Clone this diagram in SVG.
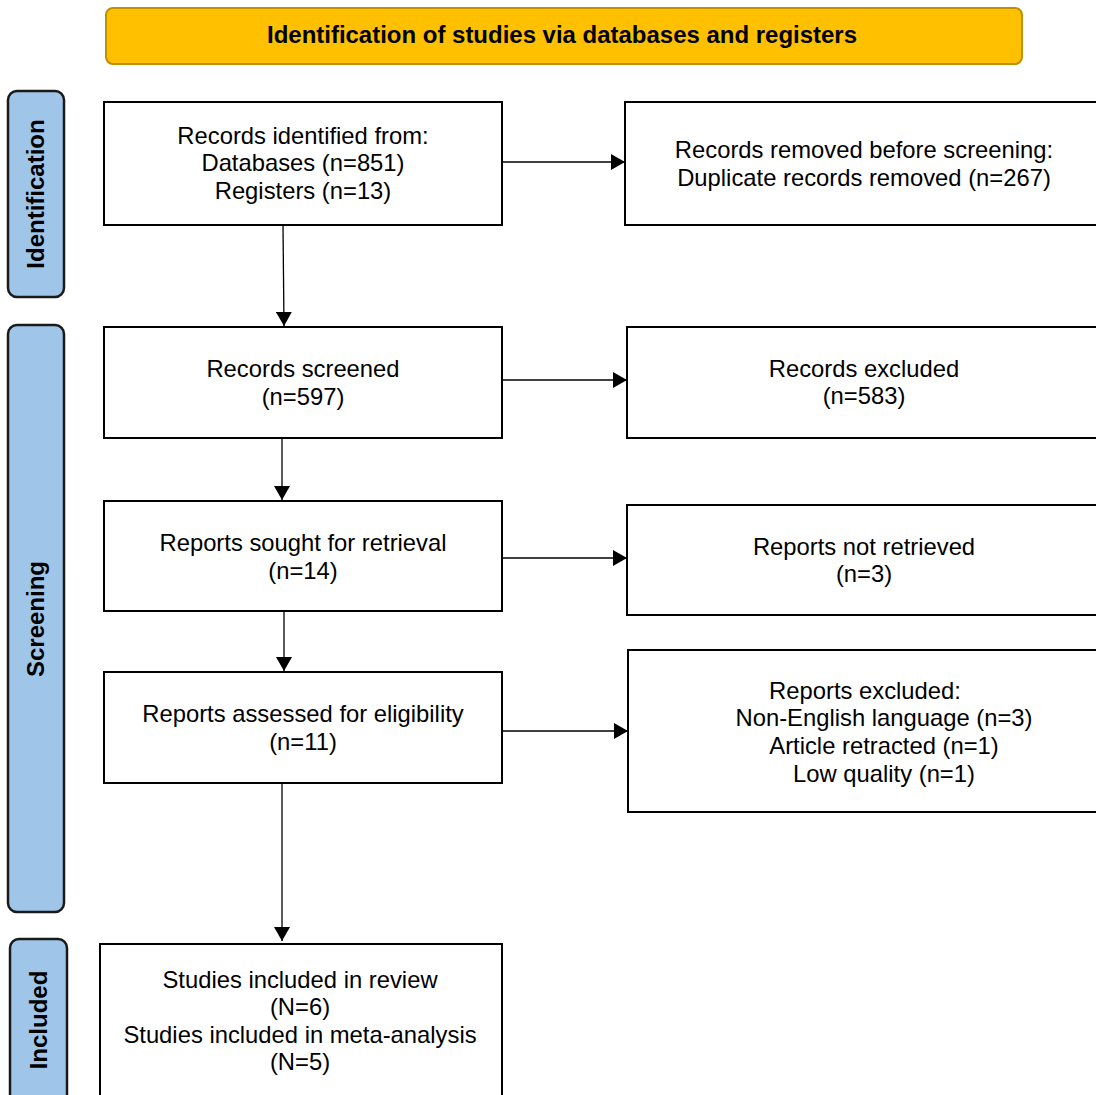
<svg xmlns="http://www.w3.org/2000/svg" width="1096" height="1095" viewBox="0 0 1096 1095">
<style>
.box{fill:#fff;stroke:#000;stroke-width:2}
.side{fill:#9FC5E8;stroke:#1a1a1a;stroke-width:2.5}
.t{font-family:"Liberation Sans",Arial,sans-serif;font-size:23.8px;fill:#000;text-anchor:middle}
.st{font-family:"Liberation Sans",Arial,sans-serif;font-size:24px;font-weight:bold;fill:#000;text-anchor:middle}
.c{stroke:#000;stroke-width:1.3;fill:none}
</style>
<defs>
<marker id="ah" viewBox="0 0 14 16" refX="14" refY="8" markerWidth="14" markerHeight="16" markerUnits="userSpaceOnUse" orient="auto">
<path d="M0,0 L14,8 L0,16 Z" fill="#000"/>
</marker>
</defs>
<rect width="1096" height="1095" fill="#fff"/>
<g id="header">
<rect x="106" y="8" width="916" height="56" rx="7" fill="#FFC000" stroke="#BF9000" stroke-width="2"/>
<text x="562" y="43" class="st" font-size="21" textLength="590" lengthAdjust="spacingAndGlyphs">Identification of studies via databases and registers</text>
</g>
<g id="side-identification">
<rect x="8" y="91" width="56" height="206" rx="9" class="side"/>
<text class="st" transform="translate(44,194) rotate(-90)">Identification</text>
</g>
<g id="side-screening">
<rect x="8" y="325" width="56" height="587" rx="9" class="side"/>
<text class="st" transform="translate(44,619) rotate(-90)">Screening</text>
</g>
<g id="side-included">
<rect x="10" y="939" width="57" height="170" rx="9" class="side"/>
<text class="st" transform="translate(47,1020) rotate(-90)">Included</text>
</g>
<g id="identified">
<rect x="104" y="102" width="398" height="123" class="box"/>
<text class="t" x="303" y="144">Records identified from:</text>
<text class="t" x="303" y="171">Databases (n=851)</text>
<text class="t" x="303" y="199">Registers (n=13)</text>
</g>
<g id="removed">
<rect x="625" y="102" width="480" height="123" class="box"/>
<text class="t" x="864" y="158">Records removed before screening:</text>
<text class="t" x="864" y="186">Duplicate records removed (n=267)</text>
</g>
<g id="screened">
<rect x="104" y="327" width="398" height="111" class="box"/>
<text class="t" x="303" y="377">Records screened</text>
<text class="t" x="303" y="405">(n=597)</text>
</g>
<g id="excluded">
<rect x="627" y="327" width="478" height="111" class="box"/>
<text class="t" x="864" y="377">Records excluded</text>
<text class="t" x="864" y="404">(n=583)</text>
</g>
<g id="sought">
<rect x="104" y="501" width="398" height="110" class="box"/>
<text class="t" x="303" y="551">Reports sought for retrieval</text>
<text class="t" x="303" y="579">(n=14)</text>
</g>
<g id="not-retrieved">
<rect x="627" y="505" width="478" height="110" class="box"/>
<text class="t" x="864" y="555">Reports not retrieved</text>
<text class="t" x="864" y="582">(n=3)</text>
</g>
<g id="assessed">
<rect x="104" y="672" width="398" height="111" class="box"/>
<text class="t" x="303" y="722">Reports assessed for eligibility</text>
<text class="t" x="303" y="750">(n=11)</text>
</g>
<g id="reports-excluded">
<rect x="628" y="650" width="477" height="162" class="box"/>
<text class="t" x="865" y="699">Reports excluded:</text>
<text class="t" x="884" y="726">Non-English language (n=3)</text>
<text class="t" x="884" y="754">Article retracted (n=1)</text>
<text class="t" x="884" y="782">Low quality (n=1)</text>
</g>
<g id="included">
<rect x="100" y="944" width="402" height="160" class="box"/>
<text class="t" x="300" y="988">Studies included in review</text>
<text class="t" x="300" y="1015">(N=6)</text>
<text class="t" x="300" y="1043">Studies included in meta-analysis</text>
<text class="t" x="300" y="1070">(N=5)</text>
</g>
<g id="connectors">
<line class="c" x1="283" y1="226" x2="284" y2="326" marker-end="url(#ah)"/>
<line class="c" x1="502" y1="162" x2="625" y2="162" marker-end="url(#ah)"/>
<line class="c" x1="502" y1="380" x2="627" y2="380" marker-end="url(#ah)"/>
<line class="c" x1="282" y1="439" x2="282" y2="500" marker-end="url(#ah)"/>
<line class="c" x1="502" y1="558" x2="627" y2="558" marker-end="url(#ah)"/>
<line class="c" x1="284" y1="612" x2="284" y2="671" marker-end="url(#ah)"/>
<line class="c" x1="502" y1="731" x2="628" y2="731" marker-end="url(#ah)"/>
<line class="c" x1="282" y1="784" x2="282" y2="941" marker-end="url(#ah)"/>
</g>
</svg>
